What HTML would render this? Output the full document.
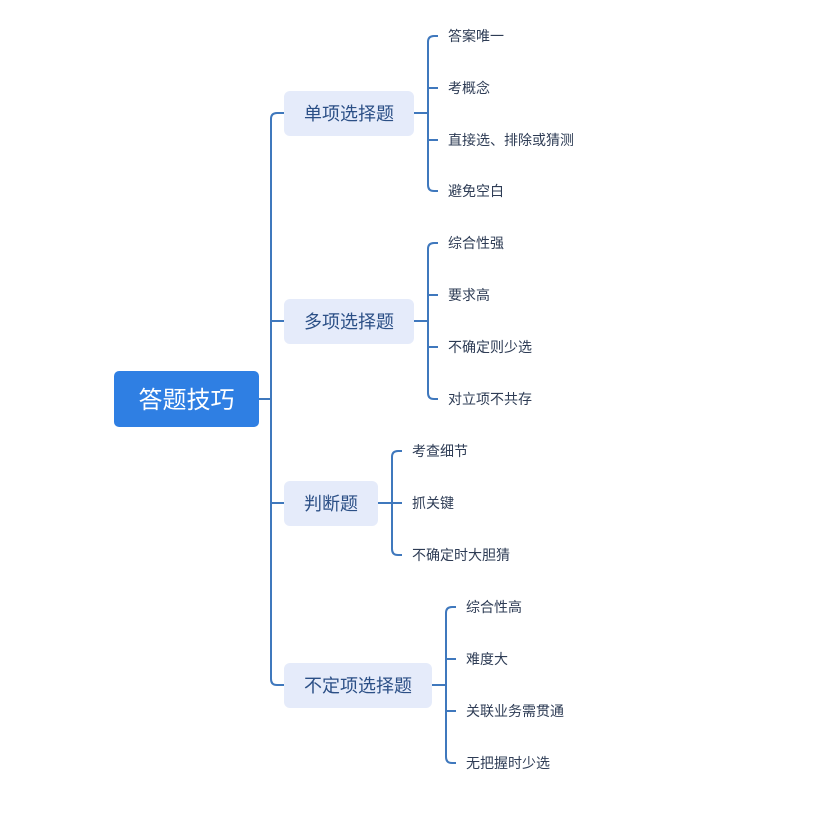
<!DOCTYPE html>
<html><head><meta charset="utf-8"><style>
html,body{margin:0;padding:0;background:#fff;}
svg{display:block;font-family:"Liberation Sans","Noto Sans CJK SC",sans-serif;}
</style></head><body>
<svg width="837" height="821" viewBox="0 0 837 821" xmlns="http://www.w3.org/2000/svg">
<g fill="none" stroke="#3f78bd" stroke-width="2">
<path d="M259 399 H271"/>
<path d="M284 113 H277 Q271 113 271 119 V679 Q271 685 277 685 H284"/>
<path d="M271 321 H284"/>
<path d="M271 503 H284"/>
<path d="M414 113 H428"/>
<path d="M438 36 H434 Q428 36 428 42 V185 Q428 191 434 191 H438"/>
<path d="M428 88 H438 M428 140 H438"/>
<path d="M414 321 H428"/>
<path d="M438 243 H434 Q428 243 428 249 V393 Q428 399 434 399 H438"/>
<path d="M428 295 H438 M428 347 H438"/>
<path d="M378 503 H402"/>
<path d="M402 451 H398 Q392 451 392 457 V549 Q392 555 398 555 H402"/>
<path d="M432 685 H446"/>
<path d="M456 607 H452 Q446 607 446 613 V757 Q446 763 452 763 H456"/>
<path d="M446 659 H456 M446 711 H456"/>
</g>
<rect x="114" y="371" width="145" height="56" rx="5" fill="#2f7fe3"/>
<text x="186.5" y="408" font-size="24" fill="#fff" text-anchor="middle">答题技巧</text>
<g fill="#e5ebfa">
<rect x="284" y="91" width="130" height="45" rx="6"/>
<rect x="284" y="299" width="130" height="45" rx="6"/>
<rect x="284" y="481" width="94" height="45" rx="6"/>
<rect x="284" y="663" width="148" height="45" rx="6"/>
</g>
<g font-size="18" fill="#2b4f86" text-anchor="middle">
<text x="349" y="120">单项选择题</text>
<text x="349" y="328">多项选择题</text>
<text x="331" y="510">判断题</text>
<text x="358" y="692">不定项选择题</text>
</g>
<g font-size="14" fill="#2e3c55">
<text x="448" y="41">答案唯一</text>
<text x="448" y="93">考概念</text>
<text x="448" y="145">直接选、排除或猜测</text>
<text x="448" y="196">避免空白</text>
<text x="448" y="248">综合性强</text>
<text x="448" y="300">要求高</text>
<text x="448" y="352">不确定则少选</text>
<text x="448" y="404">对立项不共存</text>
<text x="412" y="456">考查细节</text>
<text x="412" y="508">抓关键</text>
<text x="412" y="560">不确定时大胆猜</text>
<text x="466" y="612">综合性高</text>
<text x="466" y="664">难度大</text>
<text x="466" y="716">关联业务需贯通</text>
<text x="466" y="768">无把握时少选</text>
</g>
</svg>
</body></html>
